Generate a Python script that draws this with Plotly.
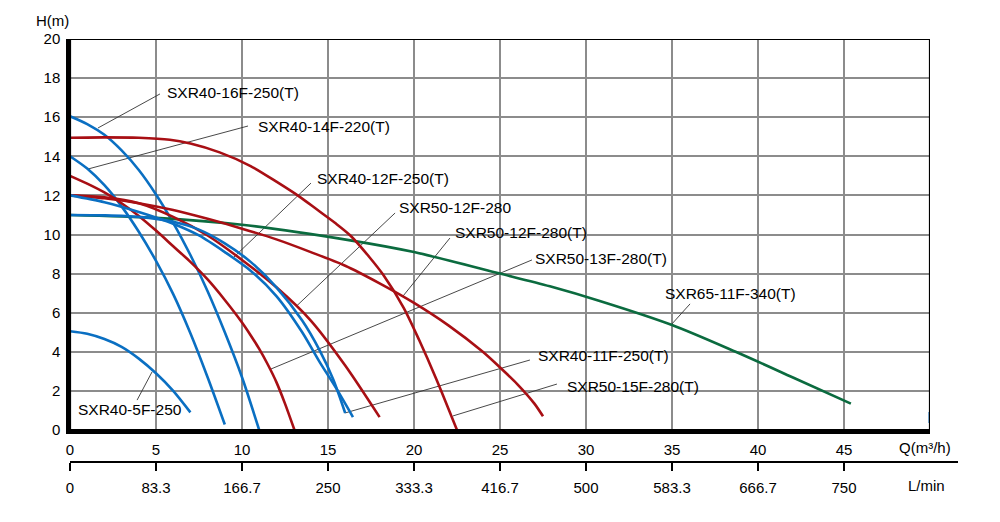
import plotly.graph_objects as go

# ---------------- data (Q in m3/h, H in m) ----------------
q_ticks = [0, 5, 10, 15, 20, 25, 30, 35, 40, 45]
lmin_labels = ["0", "83.3", "166.7", "250", "333.3", "416.7", "500", "583.3", "666.7", "750"]

sxr40_16f_q = [0, 1, 2, 3, 4, 5, 6, 7, 8, 9, 10, 11]
sxr40_16f_h = [16.05, 15.65, 15.1, 14.3, 13.3, 12.05, 10.6, 8.95, 7.1, 5.0, 2.7, 0.0]

sxr40_14f_q = [0, 1, 2, 3, 4, 5, 6, 7, 8, 9]
sxr40_14f_h = [14.0, 13.37, 12.52, 11.44, 10.14, 8.65, 6.95, 4.95, 2.7, 0.28]

sxr40_12f_q = [0, 2, 4, 6, 7.5, 9, 10.5, 12, 13.5, 14.5, 15.5, 16.45]
sxr40_12f_h = [12.0, 11.65, 11.15, 10.55, 9.95, 9.1, 8.15, 6.85, 5.0, 3.5, 2.1, 0.66]

sxr40_11f_q = [0, 2, 4, 6, 7.5, 9, 10.5, 12, 13.5, 14.5, 15.3, 16.0]
sxr40_11f_h = [11.0, 10.98, 10.9, 10.65, 10.25, 9.55, 8.6, 7.3, 5.6, 4.1, 2.6, 0.87]

sxr40_5f_q = [0, 1, 2, 3, 4, 5, 6, 7]
sxr40_5f_h = [5.05, 4.92, 4.65, 4.25, 3.65, 2.9, 2.0, 0.9]

sxr50_12f_q = [0, 2, 4, 6, 8, 10, 12, 14, 16, 18]
sxr50_12f_h = [12.0, 11.9, 11.6, 10.9, 9.95, 8.7, 7.3, 5.6, 3.3, 0.66]

sxr50_12ft_q = [0, 2, 4, 6, 8, 10, 12, 14, 16, 18, 20, 22, 24, 25, 26, 27, 27.5]
sxr50_12ft_h = [12.0, 11.85, 11.6, 11.25, 10.8, 10.3, 9.75, 9.1, 8.4, 7.5, 6.5, 5.35, 4.0, 3.2, 2.35, 1.35, 0.7]

sxr50_13f_q = [0, 1, 2, 3, 4, 5, 6, 7, 8, 9, 10, 10.5, 11, 11.5, 12, 12.5, 13.05]
sxr50_13f_h = [13.0, 12.6, 12.15, 11.6, 10.95, 10.2, 9.4, 8.6, 7.7, 6.65, 5.5, 4.85, 4.15, 3.35, 2.45, 1.35, 0.0]

sxr50_15f_q = [0, 2, 4, 5.8, 7, 8.7, 10.5, 12, 13.4, 14.4, 15.4, 16.3, 17.4, 18.2, 19.4, 20.3, 21.3, 22.5]
sxr50_15f_h = [14.95, 14.97, 14.95, 14.85, 14.65, 14.2, 13.5, 12.7, 11.9, 11.25, 10.6, 9.95, 8.85, 7.95, 6.25, 4.6, 2.6, 0.0]

sxr65_11f_q = [0, 5, 10, 16.3, 20, 25, 27.9, 30.8, 35, 38.7, 42, 45.4]
sxr65_11f_h = [11.0, 10.85, 10.5, 9.7, 9.1, 8.0, 7.35, 6.6, 5.37, 4.0, 2.7, 1.35]

edge_q = [50, 50]
edge_h = [0.36, 0.92]

# labels: text, text anchor (Q, H), leader start (Q, H), leader end (Q, H)
label_text = ["SXR40-16F-250(T)", "SXR40-14F-220(T)", "SXR40-12F-250(T)", "SXR50-12F-280",
              "SXR50-12F-280(T)", "SXR50-13F-280(T)", "SXR65-11F-340(T)", "SXR40-11F-250(T)",
              "SXR50-15F-280(T)", "SXR40-5F-250"]
label_q = [5.52, 10.81, 14.24, 19.01, 22.27, 26.92, 34.48, 27.09, 28.78, 0.35]
label_h = [17.24, 15.55, 12.89, 11.36, 10.08, 8.75, 6.96, 3.79, 2.25, 1.07]
leader_q0 = [5.23, 10.35, 14.01, 18.9, 22.09, 26.86, 36.05, 26.74, 28.31, 3.9]
leader_h0 = [17.19, 15.55, 12.63, 11.1, 9.82, 8.7, 6.45, 3.58, 2.35, 1.53]
leader_q1 = [1.63, 1.05, 9.48, 13.18, 19.36, 11.63, 34.94, 15.99, 22.27, 4.77]
leader_h1 = [15.45, 13.35, 8.8, 6.35, 6.85, 3.1, 5.37, 0.87, 0.72, 2.97]

# ---------------- styling ----------------
BLUE = "#0A6FC2"
RED = "#A80F14"
GREEN = "#0B6B3F"
FONT = "Arial, Liberation Sans, sans-serif"

curves = [
    (sxr40_16f_q, sxr40_16f_h, BLUE),
    (sxr40_14f_q, sxr40_14f_h, BLUE),
    (sxr40_5f_q, sxr40_5f_h, BLUE),
    (sxr65_11f_q, sxr65_11f_h, GREEN),
    (sxr50_15f_q, sxr50_15f_h, RED),
    (sxr50_13f_q, sxr50_13f_h, RED),
    (sxr50_12ft_q, sxr50_12ft_h, RED),
    (sxr50_12f_q, sxr50_12f_h, RED),
    (sxr40_12f_q, sxr40_12f_h, BLUE),
    (sxr40_11f_q, sxr40_11f_h, BLUE),
]

# ---------------- layout geometry ----------------
W, H = 1000, 522
L, R, T, B = 70, 42, 39, 20
plot_left, plot_right, plot_bottom = 70, 930, 430
axis2_y = 462
ph = H - T - B
pw = W - L - R
y_dom0 = (H - B - plot_bottom) / ph
x_dom1 = (plot_right - plot_left) / pw
x2_pos = (H - B - axis2_y) / ph
x2_max = 50 * pw / (plot_right - plot_left)


def px(xp):
    return (xp - L) / pw


def py(yp):
    return (H - B - yp) / ph


fig = go.Figure()

# leader lines
for i in range(len(label_text)):
    fig.add_trace(go.Scatter(x=[leader_q0[i], leader_q1[i]], y=[leader_h0[i], leader_h1[i]],
                             mode="lines", line=dict(color="#333333", width=0.9),
                             hoverinfo="skip", showlegend=False))

for q, h, c in curves:
    fig.add_trace(go.Scatter(x=q, y=h, mode="lines",
                             line=dict(color=c, width=2.6, shape="spline", smoothing=0.8),
                             hoverinfo="skip", showlegend=False))

fig.add_trace(go.Scatter(x=edge_q, y=edge_h, mode="lines", line=dict(color=BLUE, width=3),
                         cliponaxis=False, hoverinfo="skip", showlegend=False))

# invisible trace to activate the secondary (L/min) axis
fig.add_trace(go.Scatter(x=[q_ticks[0]], y=[0], xaxis="x2", yaxis="y2", mode="markers",
                         marker=dict(opacity=0), hoverinfo="skip", showlegend=False))

for i, t in enumerate(label_text):
    fig.add_annotation(x=label_q[i], y=label_h[i], text=t, showarrow=False,
                       xanchor="left", yanchor="middle", font=dict(size=15.5, color="black", family=FONT))

fig.add_annotation(xref="paper", yref="paper", x=px(52), y=py(21), text="H(m)", showarrow=False,
                   xanchor="center", yanchor="middle", font=dict(size=15, color="black", family=FONT))
fig.add_annotation(xref="paper", yref="paper", x=px(925), y=py(447), text="Q(m³/h)", showarrow=False,
                   xanchor="center", yanchor="middle", font=dict(size=15, color="black", family=FONT))
fig.add_annotation(xref="paper", yref="paper", x=px(926), y=py(485), text="L/min", showarrow=False,
                   xanchor="center", yanchor="middle", font=dict(size=15, color="black", family=FONT))

fig.add_shape(type="rect", xref="x", yref="y", x0=0, y0=0, x1=50, y1=20,
              line=dict(color="black", width=2.2), layer="above")

fig.update_layout(
    width=W, height=H,
    margin=dict(l=L, r=R, t=T, b=B),
    paper_bgcolor="white", plot_bgcolor="rgba(0,0,0,0)",
    font=dict(family=FONT, size=15, color="black"),
    xaxis=dict(range=[0, 50], domain=[0, x_dom1], tickvals=q_ticks, ticks="",
               showgrid=True, gridcolor="#8c8c8c", gridwidth=1.5, zeroline=False,
               showline=True, linecolor="black", linewidth=3.5, anchor="y",
               ticklabelstandoff=3, tickfont=dict(size=15)),
    yaxis=dict(range=[0, 20], domain=[y_dom0, 1], dtick=2, ticks="",
               showgrid=True, gridcolor="#8c8c8c", gridwidth=1.5, zeroline=False,
               showline=True, linecolor="black", linewidth=3.5,
               ticklabelstandoff=3, tickfont=dict(size=15)),
    xaxis2=dict(range=[0, x2_max], domain=[0, 1], anchor="free", position=x2_pos,
                tickvals=q_ticks, ticktext=lmin_labels, ticks="outside", ticklen=8,
                tickwidth=1.5, tickcolor="black", showgrid=False, zeroline=False,
                showline=True, linecolor="black", linewidth=1.8,
                ticklabelstandoff=4, tickfont=dict(size=15)),
    yaxis2=dict(range=[0, 20], domain=[y_dom0, 1], anchor="x2", visible=False,
                showgrid=False, zeroline=False),
)

fig.write_html("out.html")
